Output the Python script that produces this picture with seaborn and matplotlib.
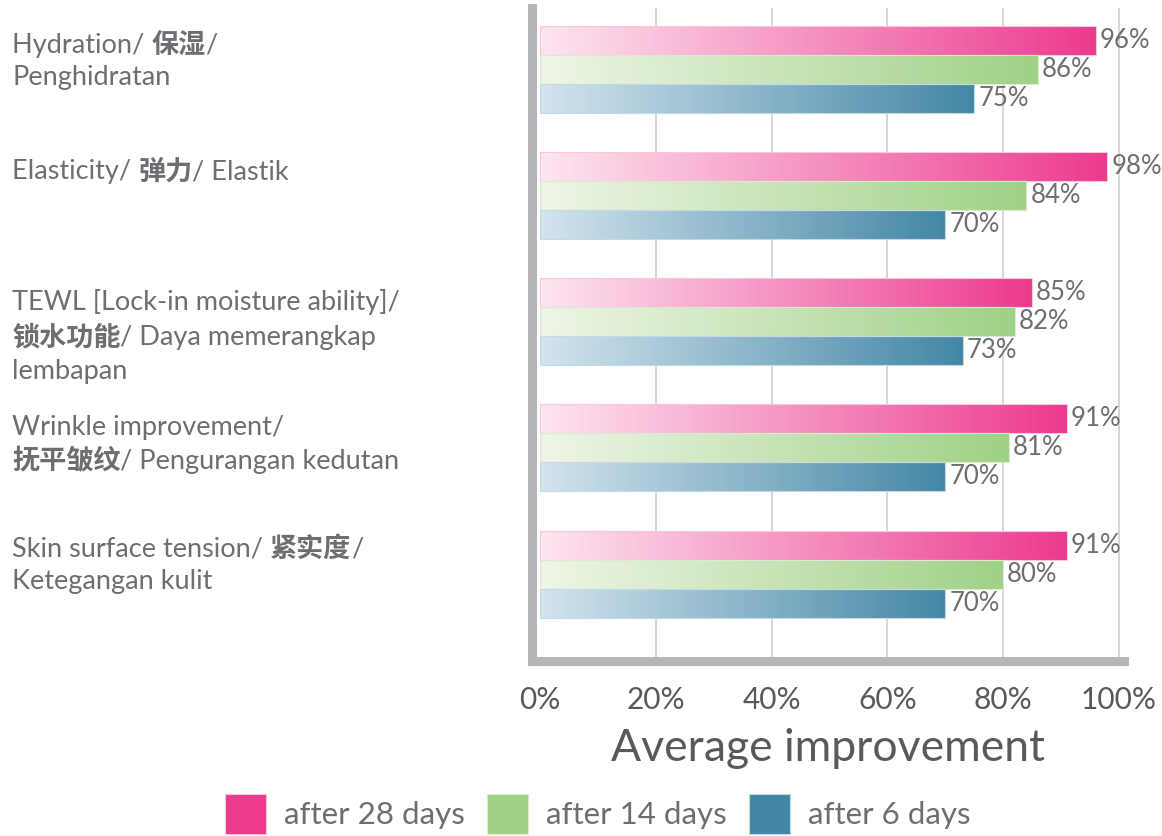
import matplotlib.pyplot as plt
import matplotlib.colors as mcolors
from matplotlib.patches import Patch
import numpy as np
import pandas as pd
import seaborn as sns

# Values
categories = ['Hydration', 'Elasticity', 'TEWL', 'Wrinkle', 'Tension']
periods = ['after 28 days', 'after 14 days', 'after 6 days']
after_28 = [96, 98, 85, 91, 91]
after_14 = [86, 84, 82, 81, 80]
after_6 = [75, 70, 73, 70, 70]
tick_values = [0, 20, 40, 60, 80, 100]
tick_labels = ['0%', '20%', '40%', '60%', '80%', '100%']

# Category labels, one list of (text, bold) pieces per line
label_lines = [
    [[('Hydration/ ', False), ('保湿', True), ('/', False)],
     [('Penghidratan', False)]],
    [[('Elasticity/ ', False), ('弹力', True), ('/ Elastik', False)]],
    [[('TEWL [Lock-in moisture ability]/', False)],
     [('锁水功能', True), ('/ Daya memerangkap', False)],
     [('lembapan', False)]],
    [[('Wrinkle improvement/', False)],
     [('抚平皱纹', True), ('/ Pengurangan kedutan', False)]],
    [[('Skin surface tension/ ', False), ('紧实度', True), ('/', False)],
     [('Ketegangan kulit', False)]],
]

# Layout (pixels of the 1162x836 canvas)
W_PX, H_PX = 1162, 836
label_line_px = [[45, 78], [172], [302, 338, 372], [427, 461], [549, 582]]

color_end = {'after 28 days': '#ec3a8f', 'after 14 days': '#9fd186', 'after 6 days': '#4487a5'}
color_start = {'after 28 days': '#fde6f0', 'after 14 days': '#eff6e7', 'after 6 days': '#d3e4ee'}
edge_color = {'after 28 days': '#f9c6dc', 'after 14 days': '#d9ecd0', 'after 6 days': '#c3d9e5'}

TEXT_GREY = '#6d6e71'
DARK_GREY = '#58595b'
SPINE_GREY = '#b5b6b9'
GRID_GREY = '#c9cacc'
LATIN = ['Lato', 'Noto Sans CJK SC', 'DejaVu Sans']
CJK = ['Noto Sans CJK SC', 'DejaVu Sans']

df = pd.DataFrame({
    'category': categories * 3,
    'period': [p for p in periods for _ in categories],
    'value': after_28 + after_14 + after_6,
})

sns.set_style('white')
plt.rcParams['font.family'] = LATIN

fig = plt.figure(figsize=(W_PX / 100, H_PX / 100), dpi=100)
ax = fig.add_axes([532 / W_PX, 1 - 661 / H_PX, 592 / W_PX, 653 / H_PX])

sns.barplot(data=df, y='category', x='value', hue='period',
            order=categories, hue_order=periods, palette=color_end,
            orient='h', width=0.69, saturation=1, errorbar=None,
            legend=False, ax=ax)

# Gradient fill for every bar seaborn drew
for period, container in zip(periods, ax.containers):
    cmap = mcolors.LinearSegmentedColormap.from_list(
        period, [color_start[period], color_end[period]])
    for bar in container:
        x0, y0 = bar.get_x(), bar.get_y()
        w, h = bar.get_width(), bar.get_height()
        ax.imshow(np.linspace(0, 1, 256)[None, :], cmap=cmap,
                  extent=(x0, x0 + w, y0 + h, y0), aspect='auto',
                  interpolation='bilinear', zorder=2)
        bar.set_facecolor('none')
        bar.set_edgecolor(edge_color[period])
        bar.set_linewidth(0.8)
        bar.set_zorder(3)
    ax.bar_label(container, labels=[f'{v:.0f}%' for v in container.datavalues],
                 padding=3, fontsize=18.5, color=TEXT_GREY)

ax.set_xlim(-1.38, 100.9)
ax.set_ylim(4.69, -0.49)
ax.set_xticks(tick_values, tick_labels)
ax.set_yticks([])
ax.set_ylabel('')
ax.set_xlabel('Average improvement', fontsize=32, color=DARK_GREY, labelpad=10)
ax.tick_params(axis='x', length=0, pad=18, labelsize=21.5, labelcolor=DARK_GREY)

ax.set_axisbelow(True)
ax.xaxis.grid(True, color=GRID_GREY, lw=1.1)
ax.xaxis.get_gridlines()[0].set_visible(False)

sns.despine(ax=ax, top=True, right=True)
for side in ['left', 'bottom']:
    ax.spines[side].set_color(SPINE_GREY)
    ax.spines[side].set_linewidth(6.5)

# Category labels with bold Chinese pieces
for lines, ys in zip(label_lines, label_line_px):
    for pieces, y in zip(lines, ys):
        prev = None
        for text, bold in pieces:
            kw = dict(fontsize=19.5, color=TEXT_GREY,
                      family=CJK if bold else LATIN,
                      weight='bold' if bold else 'normal')
            if prev is None:
                prev = fig.text(12 / W_PX, 1 - y / H_PX, text, va='center', ha='left', **kw)
            else:
                prev = ax.annotate(text, xy=(1, 0.5), xycoords=prev,
                                   va='center', ha='left', annotation_clip=False, **kw)

handles = [Patch(facecolor=color_end[p], edgecolor=edge_color[p], lw=0.8) for p in periods]
fig.legend(handles, periods, loc='center', bbox_to_anchor=(598 / W_PX, 1 - 814 / H_PX),
           ncol=3, frameon=False, fontsize=22.5, labelcolor=TEXT_GREY,
           handlelength=1.3, handleheight=1.6, handletextpad=0.6,
           columnspacing=0.7, borderpad=0, borderaxespad=0)

fig.savefig('out.png', dpi=100)
